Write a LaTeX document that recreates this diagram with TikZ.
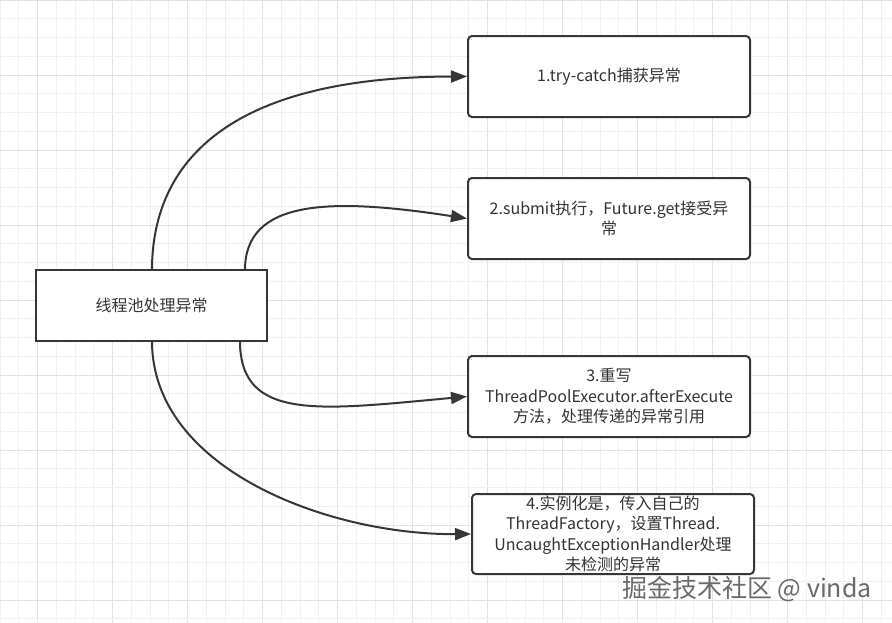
\documentclass[tikz,border=0pt]{standalone}
\usepackage{fontspec}
\setmainfont{Noto Sans CJK SC}
\usetikzlibrary{arrows.meta}
\definecolor{linec}{HTML}{363636}
\definecolor{textc}{HTML}{333333}
\definecolor{gridminor}{HTML}{F0F0F0}
\definecolor{gridmajor}{HTML}{E2E2E2}
\definecolor{wmc}{HTML}{6A6A6A}
\tikzset{
  box/.style={draw=linec, line width=2pt, fill=white, rounded corners=4pt, text=textc,
    align=center, inner sep=0pt, font=\fontsize{16}{20.5}\selectfont},
  mainbox/.style={box, rounded corners=0pt},
  edge/.style={draw=linec, line width=2pt, -{Triangle[length=16pt,width=12pt]}},
}
\begin{document}
\begin{tikzpicture}[x=1pt,y=-1pt]
\useasboundingbox (0,0) rectangle (892,622);
\fill[white] (0,0) rectangle (892,622);
% grid
\foreach \i in {0,...,48}{
  \pgfmathtruncatemacro{\m}{mod(\i,4)}
  \ifnum\m=2
    \draw[gridmajor, line width=1pt] ({\i*18.75},0) -- ({\i*18.75},622);
  \else
    \draw[gridminor, line width=1pt] ({\i*18.75},0) -- ({\i*18.75},622);
  \fi
}
\foreach \j in {0,...,33}{
  \pgfmathtruncatemacro{\m}{mod(\j,4)}
  \ifnum\m=0
    \draw[gridmajor, line width=1pt] (0,{\j*18.75}) -- (892,{\j*18.75});
  \else
    \draw[gridminor, line width=1pt] (0,{\j*18.75}) -- (892,{\j*18.75});
  \fi
}
% nodes
\node[mainbox, minimum width=231pt, minimum height=71pt] (main) at (151.5,305.5) {线程池处理异常};
\node[box, minimum width=282pt, minimum height=81pt] (b1) at (609,76.5) {1.try-catch捕获异常};
\node[box, minimum width=282pt, minimum height=81pt] (b2) at (609,218.5) {2.submit执行，Future.get接受异\\常};
\node[box, minimum width=282pt, minimum height=81pt] (b3) at (609,396.5) {3.重写\\ThreadPoolExecutor.afterExecute\\方法，处理传递的异常引用};
\node[box, minimum width=282pt, minimum height=80pt] (b4) at (613,534) {4.实例化是，传入自己的\\ThreadFactory，设置Thread.\\UncaughtExceptionHandler处理\\未检测的异常};
% start points on main box
\coordinate (s1) at (152,270);
\coordinate (s2) at (245,270);
\coordinate (s3) at (240,341);
\coordinate (s4) at (152,341);
% edges
\draw[edge] (s1) .. controls (152,170) and (218,77) .. (b1.west);
\draw[edge] (s2) .. controls (245,200) and (328,197) .. (b2.west);
\draw[edge] (s3) .. controls (240,422) and (320,410) .. (b3.west);
\draw[edge] (s4) .. controls (152,470) and (330,535) .. (b4.west);
% watermark
\node[text=wmc, font=\fontsize{25}{28}\selectfont, inner sep=0pt] (wm) at (747,589) {掘金技术社区 @ vinda};
\end{tikzpicture}
\end{document}
